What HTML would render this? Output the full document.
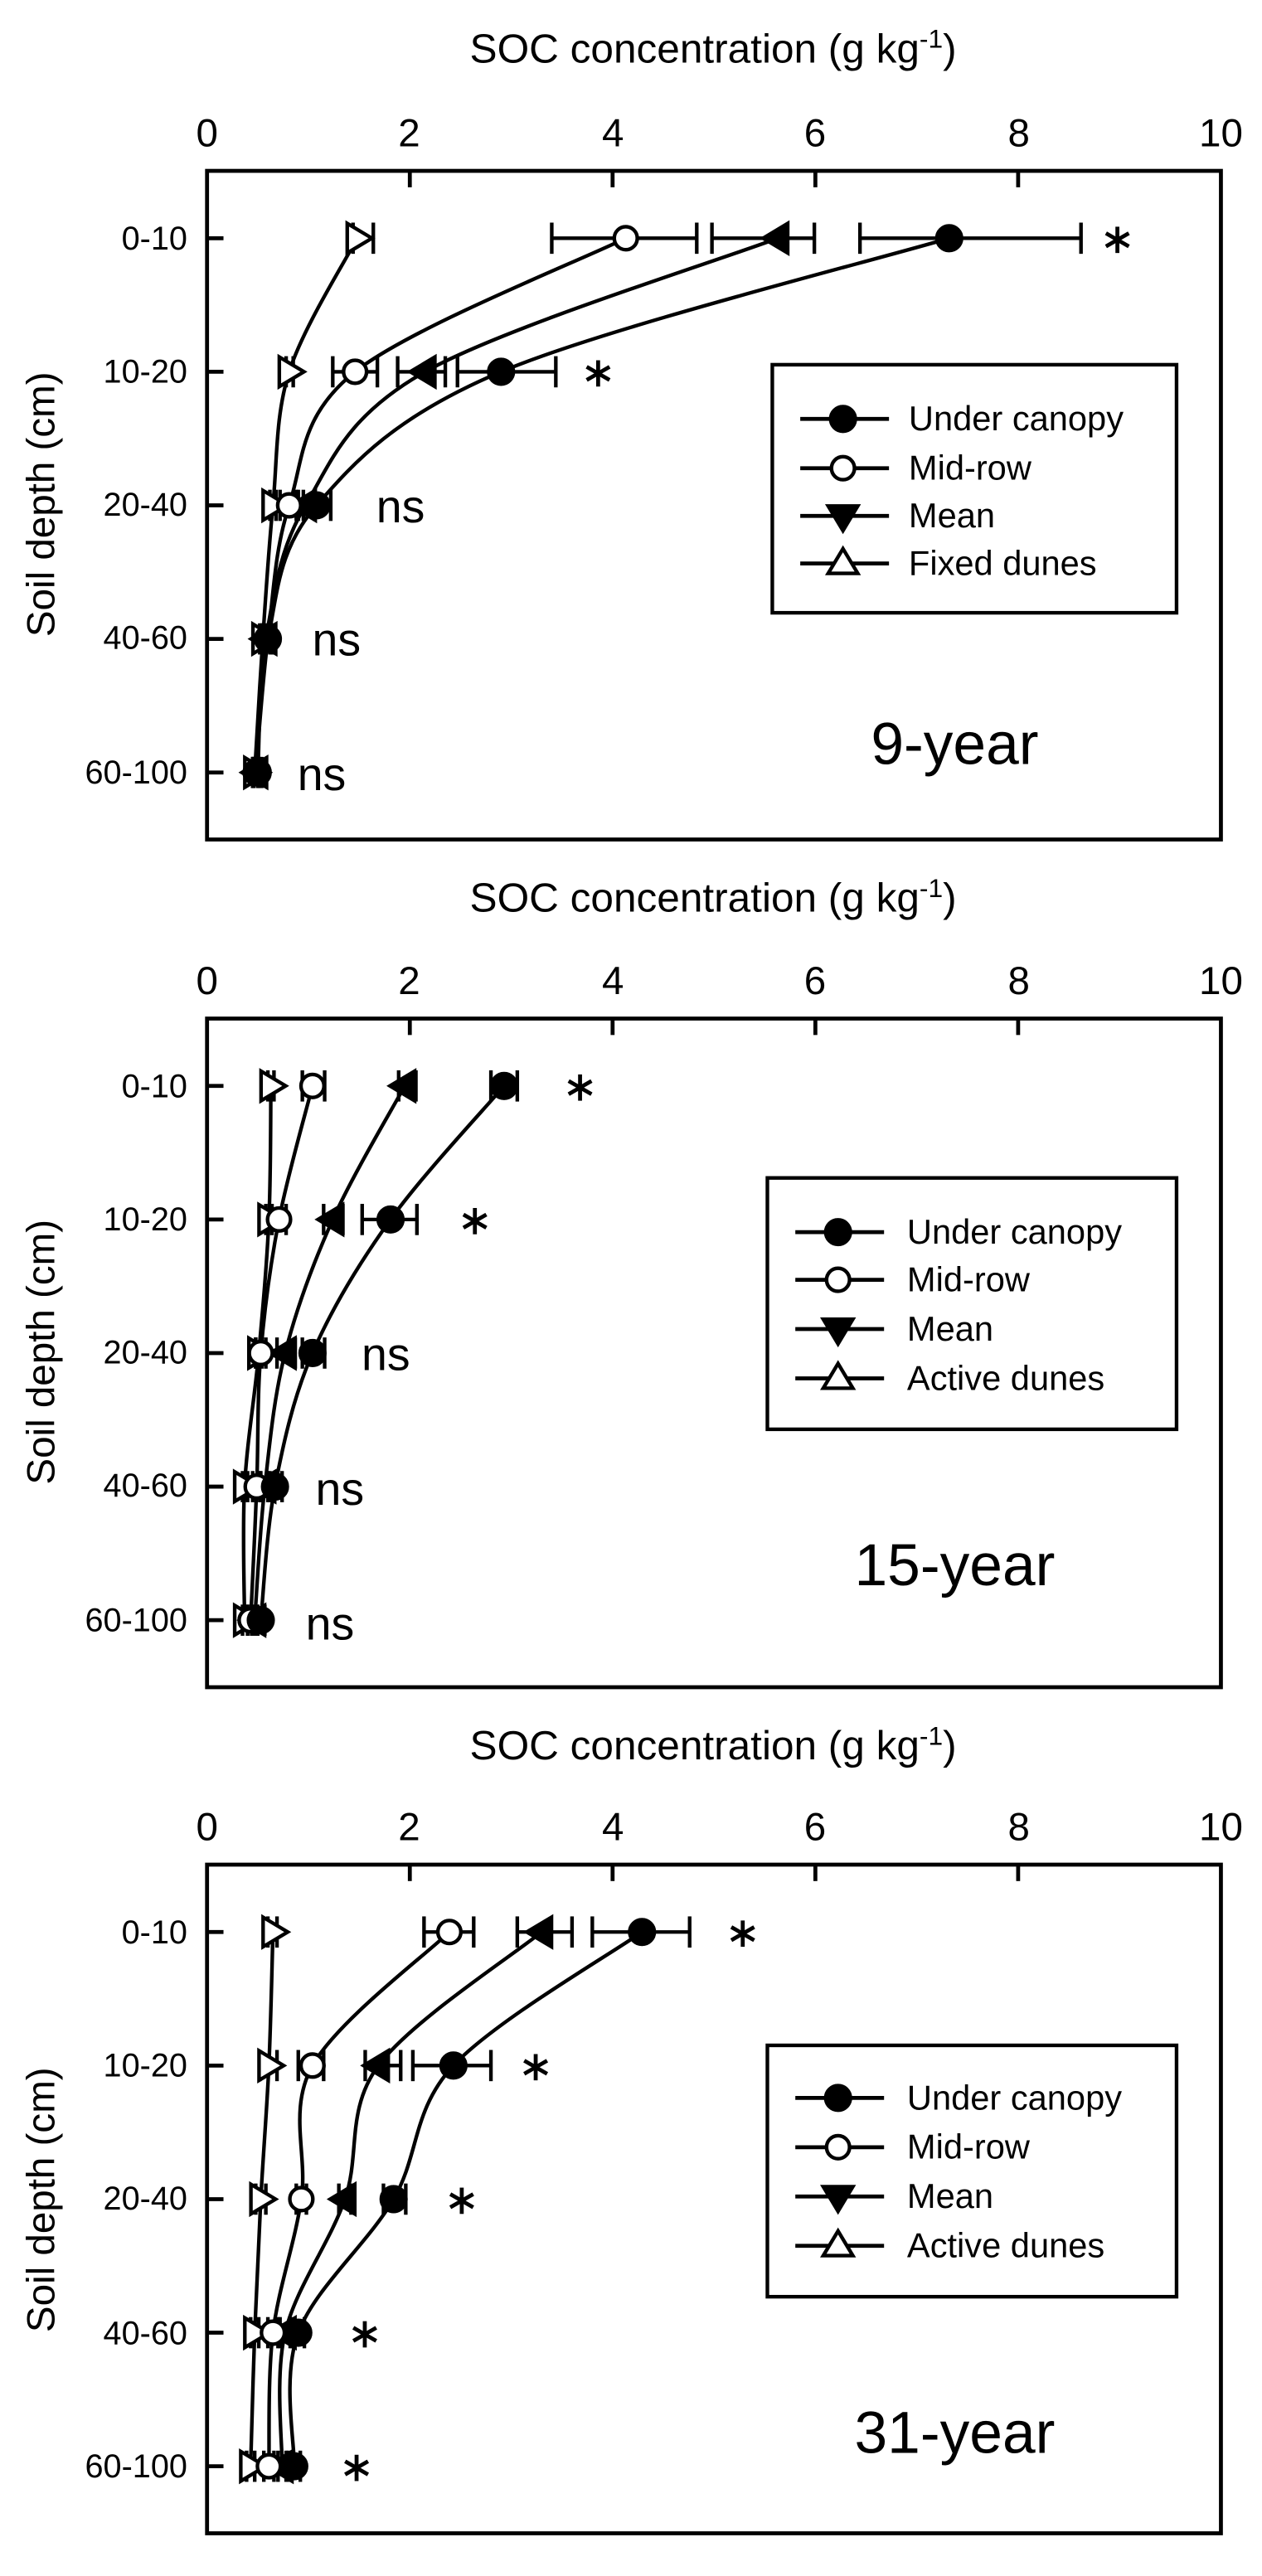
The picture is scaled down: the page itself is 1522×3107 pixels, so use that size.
<!DOCTYPE html>
<html><head><meta charset="utf-8"><style>
html,body{margin:0;padding:0;background:#fff}
svg{display:block}
text{font-family:"Liberation Sans",Arial,sans-serif;fill:#000}
</style></head><body>
<svg id="s" width="1522" height="3107" viewBox="0 0 768 1568" preserveAspectRatio="none" xmlns="http://www.w3.org/2000/svg">
<g font-size="25" text-anchor="middle">
<text x="434" y="38">SOC concentration (g kg<tspan dy="-9" font-size="16">-1</tspan><tspan dy="9">)</tspan></text>
<text x="434" y="555">SOC concentration (g kg<tspan dy="-9" font-size="16">-1</tspan><tspan dy="9">)</tspan></text>
<text x="434" y="1071">SOC concentration (g kg<tspan dy="-9" font-size="16">-1</tspan><tspan dy="9">)</tspan></text>
</g>
<g font-size="24" text-anchor="middle">
<text x="126" y="89">0</text><text x="249" y="89">2</text><text x="373" y="89">4</text><text x="496" y="89">6</text><text x="620" y="89">8</text><text x="743" y="89">10</text>
<text x="126" y="605">0</text><text x="249" y="605">2</text><text x="373" y="605">4</text><text x="496" y="605">6</text><text x="620" y="605">8</text><text x="743" y="605">10</text>
<text x="126" y="1120">0</text><text x="249" y="1120">2</text><text x="373" y="1120">4</text><text x="496" y="1120">6</text><text x="620" y="1120">8</text><text x="743" y="1120">10</text>
</g>
<g font-size="20" text-anchor="end">
<text x="114" y="152">0-10</text><text x="114" y="233">10-20</text><text x="114" y="314">20-40</text><text x="114" y="395">40-60</text><text x="114" y="477">60-100</text>
<text x="114" y="668">0-10</text><text x="114" y="749">10-20</text><text x="114" y="830">20-40</text><text x="114" y="911">40-60</text><text x="114" y="993">60-100</text>
<text x="114" y="1183">0-10</text><text x="114" y="1264">10-20</text><text x="114" y="1345">20-40</text><text x="114" y="1427">40-60</text><text x="114" y="1508">60-100</text>
</g>
<g font-size="24" text-anchor="middle">
<text transform="translate(33,307) rotate(-90)">Soil depth (cm)</text>
<text transform="translate(33,823) rotate(-90)">Soil depth (cm)</text>
<text transform="translate(33,1339) rotate(-90)">Soil depth (cm)</text>
</g>
<g font-size="36">
<text x="530" y="465">9-year</text>
<text x="520" y="965">15-year</text>
<text x="520" y="1493">31-year</text>
</g>
<g font-size="21">
<text x="553" y="262">Under canopy</text><text x="553" y="292">Mid-row</text><text x="553" y="321">Mean</text><text x="553" y="350">Fixed dunes</text>
<text x="552" y="757">Under canopy</text><text x="552" y="786">Mid-row</text><text x="552" y="816">Mean</text><text x="552" y="846">Active dunes</text>
<text x="552" y="1284">Under canopy</text><text x="552" y="1314">Mid-row</text><text x="552" y="1344">Mean</text><text x="552" y="1374">Active dunes</text>
</g>
<g font-size="28">
<text x="229" y="318">ns</text><text x="190" y="399">ns</text><text x="181" y="481">ns</text>
<text x="220" y="834">ns</text><text x="192" y="916">ns</text><text x="186" y="998">ns</text>
</g>
<g id="shapes" fill="none" stroke="#000" stroke-width="2.2"></g>
</svg>
<script>
const X=v=>126+v*61.7;
const g=document.getElementById('shapes');
let h='';
function L(x1,y1,x2,y2,w){h+=`<line x1="${x1}" y1="${y1}" x2="${x2}" y2="${y2}" stroke-width="${w||2.2}"/>`;}
function star(x,y){const r=8;L(x,y-r,x,y+r,2.4);const a=r*0.87,b=r*0.5;L(x-a,y-b,x+a,y+b,2.4);L(x-a,y+b,x+a,y-b,2.4);}
function smooth(pts){let d=`M${pts[0][0]},${pts[0][1]}`;for(let i=0;i<pts.length-1;i++){const p0=pts[i-1]||pts[i],p1=pts[i],p2=pts[i+1],p3=pts[i+2]||p2;const c1=[p1[0]+(p2[0]-p0[0])/6,p1[1]+(p2[1]-p0[1])/6],c2=[p2[0]-(p3[0]-p1[0])/6,p2[1]-(p3[1]-p1[1])/6];d+=` C${c1[0]},${c1[1]} ${c2[0]},${c2[1]} ${p2[0]},${p2[1]}`;}h+=`<path d="${d}"/>`;}
function mark(t,x,y){if(t==0)h+=`<circle cx="${x}" cy="${y}" r="7.5" fill="#000"/>`;else if(t==1)h+=`<circle cx="${x}" cy="${y}" r="7" fill="#fff"/>`;else if(t==2)h+=`<polygon points="${x-9},${y} ${x+6},${y-9} ${x+6},${y+9}" fill="#000"/>`;else if(t==3)h+=`<polygon points="${x+9},${y} ${x-6},${y-9} ${x-6},${y+9}" fill="#fff"/>`;else if(t==4)h+=`<polygon points="${x},${y+9} ${x-9},${y-6} ${x+9},${y-6}" fill="#000"/>`;else h+=`<polygon points="${x},${y-9} ${x-9},${y+6} ${x+9},${y+6}" fill="#fff"/>`;}
const panels=[
{top:104,leg:[222,373],legx:[470,716],ly:[255,285,314,343],stars:[[680,0],[364,1]],s:[
 [[7.32,6.44,8.62],[2.9,2.47,3.44],[1.08,0.95,1.22],[0.6,0.55,0.65],[0.5,0.46,0.54]],
 [[4.13,3.4,4.83],[1.46,1.24,1.68],[0.81,0.72,0.9],[0.6,0.56,0.64],[0.48,0.45,0.51]],
 [[5.63,4.98,5.99],[2.15,1.88,2.35],[0.97,0.88,1.06],[0.58,0.54,0.62],[0.49,0.46,0.52]],
 [[1.48,1.44,1.64],[0.81,0.78,0.85],[0.65,0.62,0.68],[0.55,0.52,0.58],[0.47,0.45,0.5]]]},
{top:620,leg:[717,870],legx:[467,716],ly:[750,779,809,839],stars:[[353,0],[289,1]],s:[
 [[2.93,2.8,3.06],[1.81,1.53,2.07],[1.04,0.94,1.16],[0.67,0.6,0.74],[0.53,0.49,0.57]],
 [[1.04,0.94,1.16],[0.71,0.64,0.78],[0.53,0.48,0.58],[0.49,0.45,0.53],[0.43,0.4,0.46]],
 [[1.95,1.89,2.06],[1.24,1.15,1.34],[0.77,0.69,0.87],[0.57,0.52,0.62],[0.47,0.44,0.5]],
 [[0.63,0.6,0.66],[0.61,0.58,0.64],[0.51,0.48,0.54],[0.37,0.35,0.4],[0.37,0.35,0.4]]]},
{top:1135,leg:[1245,1398],legx:[467,716],ly:[1277,1307,1337,1367],stars:[[452,0],[326,1],[281,2],[222,3],[217,4]],s:[
 [[4.29,3.8,4.76],[2.43,2.03,2.8],[1.84,1.74,1.96],[0.9,0.84,0.96],[0.86,0.8,0.92]],
 [[2.39,2.14,2.63],[1.04,0.9,1.15],[0.93,0.88,0.98],[0.65,0.6,0.7],[0.61,0.56,0.66]],
 [[3.3,3.06,3.6],[1.69,1.56,1.91],[1.36,1.3,1.42],[0.77,0.72,0.82],[0.74,0.7,0.78]],
 [[0.65,0.6,0.69],[0.61,0.52,0.69],[0.53,0.48,0.58],[0.47,0.43,0.51],[0.43,0.39,0.47]]]}];
for(const p of panels){
 const T=p.top,B=T+407;
 h+=`<rect x="126" y="${T}" width="617" height="${B-T}" stroke-width="2.4"/>`;
 for(const v of [2,4,6,8])L(X(v),T,X(v),T+10,2.4);
 const rows=[0,1,2,3,4].map(i=>T+41+i*81.3);
 for(const r of rows)L(126,r,136,r,2.4);
 for(let k=3;k>=0;k--){smooth(p.s[k].map((d,i)=>[X(d[0]),rows[i]]));}
 for(let k=3;k>=0;k--){p.s[k].forEach((d,i)=>{const y=rows[i];L(X(d[1]),y,X(d[2]),y);L(X(d[1]),y-9.5,X(d[1]),y+9.5);L(X(d[2]),y-9.5,X(d[2]),y+9.5);});}
 for(let k=3;k>=0;k--){p.s[k].forEach((d,i)=>mark([0,1,2,3][k],X(d[0]),rows[i]));}
 for(const s of p.stars)star(s[0],rows[s[1]]+1);
 h+=`<rect x="${p.legx[0]}" y="${p.leg[0]}" width="${p.legx[1]-p.legx[0]}" height="${p.leg[1]-p.leg[0]}" stroke-width="2.2"/>`;
 p.ly.forEach((y,i)=>{L(p.legx[0]+17,y,p.legx[0]+71,y,2.4);mark([0,1,4,5][i],p.legx[0]+43,y);});
}
g.innerHTML=h;
</script>
</body></html>
